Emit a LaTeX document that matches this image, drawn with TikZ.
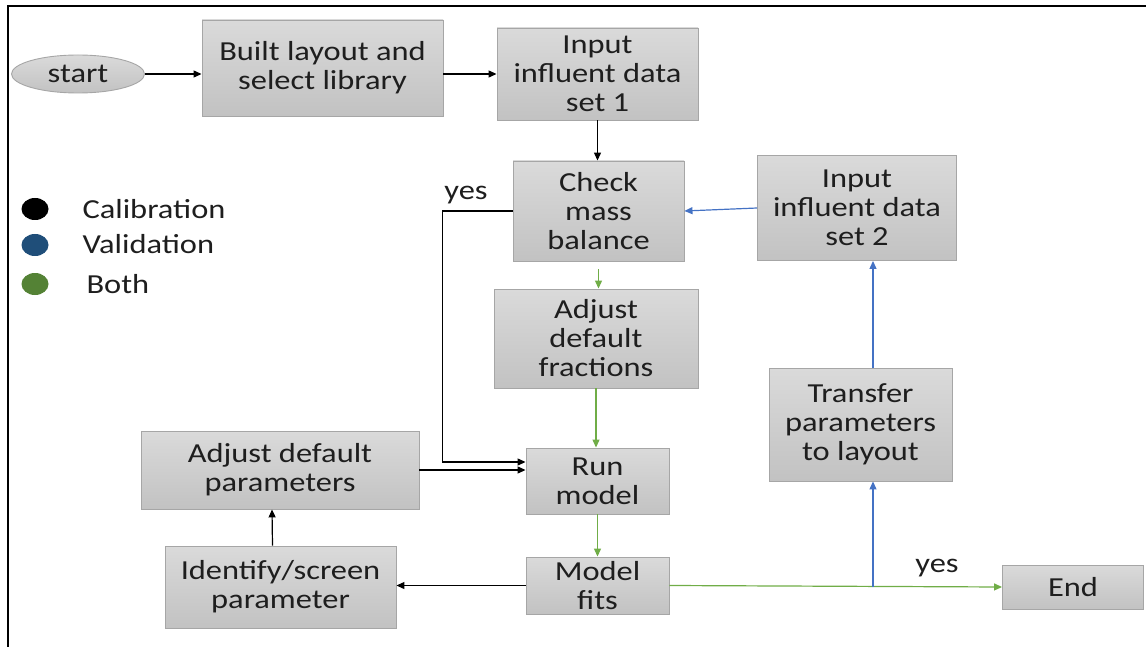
\documentclass[tikz,border=0pt]{standalone}
\usepackage{fontspec}
\setmainfont{Carlito}[FakeStretch=1.18]
\usetikzlibrary{arrows.meta,shapes.geometric}
\definecolor{boxedge}{RGB}{166,166,166}
\definecolor{boxtop}{RGB}{218,218,218}
\definecolor{boxbot}{RGB}{194,194,194}
\definecolor{txt}{RGB}{30,30,30}
\definecolor{calib}{RGB}{0,0,0}
\definecolor{valid}{RGB}{31,78,121}
\definecolor{both}{RGB}{84,130,53}
\definecolor{gline}{RGB}{112,173,71}
\definecolor{bline}{RGB}{68,114,196}
\begin{document}
\begin{tikzpicture}[x=1pt,y=-1pt,
  lbl/.style={font=\fontsize{27.5}{29}\selectfont, text=txt},
  box/.style={lbl, draw=boxedge, line width=0.9pt, top color=boxtop, bottom color=boxbot,
              align=center, inner sep=0pt},
  blk/.style={draw=black, line width=1.2pt, -{Triangle[length=8pt,width=7pt]}},
  grn/.style={draw=gline, line width=1.2pt, -{Triangle[length=8pt,width=7pt]}},
  blu/.style={draw=bline, line width=1.2pt, -{Triangle[length=8pt,width=7pt]}},
  dot/.style={ellipse, minimum width=27pt, minimum height=22pt, inner sep=0pt}]
\useasboundingbox (0,0) rectangle (1146,647);
% frame
\draw[line width=2.2pt] (8,647) -- (8,6) -- (1146,6);

% process boxes
\node[box, ellipse, minimum width=133pt, minimum height=38pt] (start) at (78,74) {start};
\node[box, minimum width=241pt, minimum height=96pt] (built) at (322.5,68) {Built layout and\\select library};
\node[box, minimum width=201pt, minimum height=92pt] (in1) at (597.5,74) {Input\\influent data\\set 1};
\node[box, minimum width=171pt, minimum height=100pt] (check) at (598.5,211) {Check\\mass\\balance};
\node[box, minimum width=199pt, minimum height=105pt] (in2) at (857,208) {Input\\influent data\\set 2};
\node[box, minimum width=204pt, minimum height=99pt] (frac) at (596,338.5) {Adjust\\default\\fractions};
\node[box, minimum width=143pt, minimum height=66pt] (run) at (597.5,481) {Run\\model};
\node[box, minimum width=278pt, minimum height=78pt] (adjp) at (280,470) {Adjust default\\parameters};
\node[box, minimum width=231pt, minimum height=82pt] (ident) at (280.5,587) {Identify/screen\\parameter};
\node[box, minimum width=143pt, minimum height=57pt] (fits) at (597.5,585.5) {Model\\fits};
\node[box, minimum width=183pt, minimum height=113pt] (trans) at (860.5,424.5) {Transfer\\parameters\\to layout};
\node[box, minimum width=141pt, minimum height=44pt] (end) at (1073,587) {End};

% legend
\node[dot, fill=calib] (d1) at (35,209) {};
\node[dot, fill=valid] (d2) at (35,245) {};
\node[dot, fill=both] (d3) at (35,284) {};
\node[lbl, anchor=west] (l1) at (79,209) {Calibration};
\node[lbl, anchor=west] (l2) at (79,244) {Validation};
\node[lbl, anchor=west] (l3) at (83,284) {Both};

% labels
\node[lbl] (yes1) at (466,195) {yes};
\node[lbl] (yes2) at (937,568) {yes};

% connectors
\draw[blk] (start.east) -- (start.east -| built.west);
\draw[blk] (built.east |- in1) -- (in1.west);
\draw[blk] (in1.south) -- (in1.south |- check.north);
\draw[grn] ([yshift=-8pt]check.south) -- (check.south |- frac.north);
\draw[grn] (frac.south) -- (frac.south |- run.north);
\draw[grn] (run.south) -- (run.south |- fits.north);
\draw[blu] (in2.west) -- (check.east);
\draw[blk] (check.west) -- ++(-70,0) |- ([yshift=19pt]run.west);
\draw[blk] (adjp.east) -- (adjp.east -| run.west);
\draw[blk] ([xshift=-8pt]ident.north) -- ([xshift=-8pt]adjp.south);
\draw[blk] (fits.west) -- (fits.west -| ident.east);
\draw[grn] (fits.east) -- (end.west);
\coordinate (split) at (873,587);
\draw[blu] (split) -- (split |- trans.south);
\draw[blu] (split |- trans.north) -- (split |- in2.south);
\end{tikzpicture}
\end{document}
